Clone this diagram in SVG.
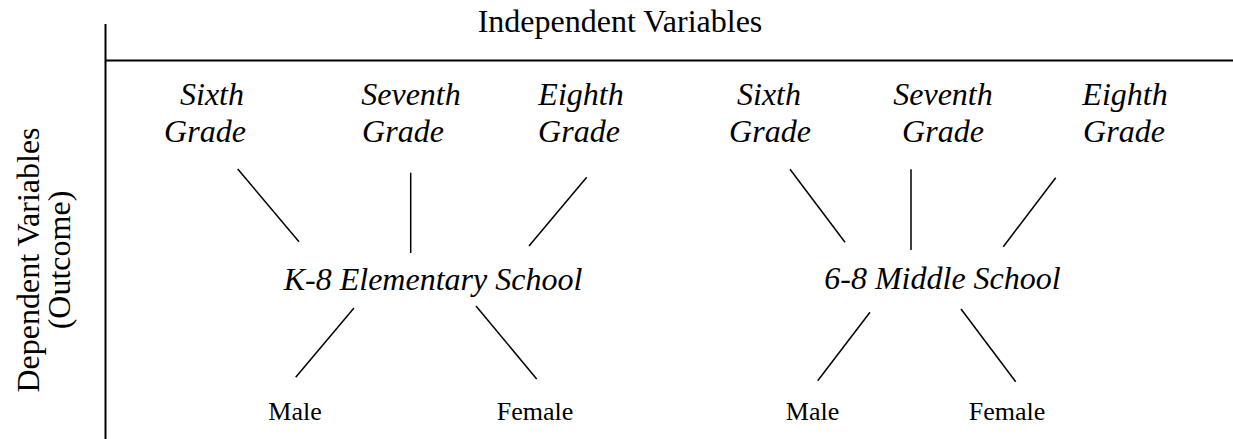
<svg xmlns="http://www.w3.org/2000/svg" width="1233" height="439" viewBox="0 0 1233 439">
<style>
text{font-family:"Liberation Serif","Times New Roman",serif;fill:#000}
.title{font-size:32px;text-anchor:middle}
.grade{font-size:32px;font-style:italic;text-anchor:middle}
.school{font-size:32px;font-style:italic;text-anchor:middle}
.sex{font-size:26px;text-anchor:middle}
.axis{stroke:#000;stroke-width:2;fill:none}
.conn line{stroke:#000;stroke-width:1.5}
</style>
<rect width="1233" height="439" fill="#fff"/>
<g id="axes">
<line class="axis" x1="105.5" y1="24" x2="105.5" y2="439"/>
<line class="axis" x1="105" y1="60.5" x2="1233" y2="60.5"/>
</g>
<g id="title-independent"><text class="title" x="620" y="32">Independent Variables</text></g>
<g id="title-dependent">
<text class="title" transform="translate(38.5,260) rotate(-90)">Dependent Variables</text>
<text class="title" transform="translate(69.5,260) rotate(-90)">(Outcome)</text>
</g>
<g id="k8-sixth"><text class="grade" x="212" y="105">Sixth</text><text class="grade" x="205" y="142">Grade</text></g>
<g id="k8-seventh"><text class="grade" x="411" y="105">Seventh</text><text class="grade" x="403" y="142">Grade</text></g>
<g id="k8-eighth"><text class="grade" x="581" y="105">Eighth</text><text class="grade" x="579" y="142">Grade</text></g>
<g id="k8-school"><text class="school" x="433" y="290">K-8 Elementary School</text></g>
<g id="k8-male"><text class="sex" x="295" y="420">Male</text></g>
<g id="k8-female"><text class="sex" x="535" y="420">Female</text></g>
<g id="ms-sixth"><text class="grade" x="769" y="105">Sixth</text><text class="grade" x="770" y="142">Grade</text></g>
<g id="ms-seventh"><text class="grade" x="943" y="105">Seventh</text><text class="grade" x="943" y="142">Grade</text></g>
<g id="ms-eighth"><text class="grade" x="1125" y="105">Eighth</text><text class="grade" x="1124" y="142">Grade</text></g>
<g id="ms-school"><text class="school" x="942.5" y="289">6-8 Middle School</text></g>
<g id="ms-male"><text class="sex" x="812.5" y="420">Male</text></g>
<g id="ms-female"><text class="sex" x="1007" y="420">Female</text></g>
<g id="connectors" class="conn">
<line x1="237.7" y1="169" x2="299" y2="241.7"/>
<line x1="410.7" y1="172.7" x2="410.7" y2="253"/>
<line x1="586.7" y1="177.3" x2="529" y2="246"/>
<line x1="354" y1="308" x2="295.7" y2="377.3"/>
<line x1="476" y1="306" x2="536.7" y2="379"/>
<line x1="790" y1="169.3" x2="845" y2="242.3"/>
<line x1="911" y1="169.3" x2="911" y2="250"/>
<line x1="1055.7" y1="177.7" x2="1003.3" y2="246.7"/>
<line x1="870" y1="312.3" x2="817.7" y2="380.7"/>
<line x1="961" y1="309" x2="1015.7" y2="381.7"/>
</g>
</svg>
